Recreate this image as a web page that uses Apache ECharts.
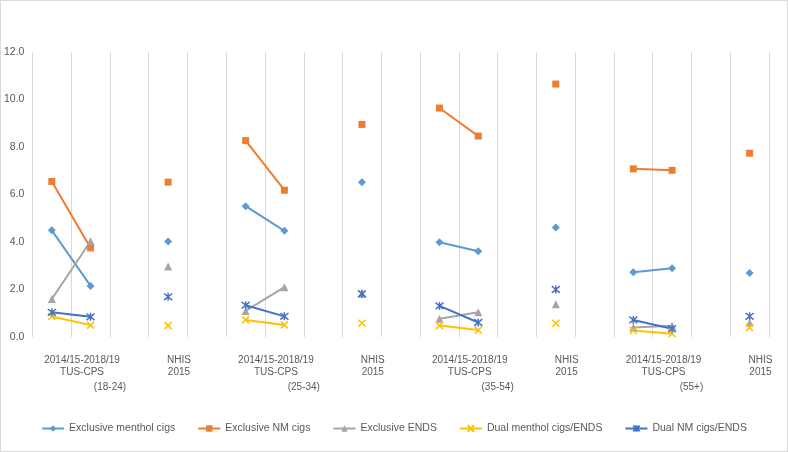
<!DOCTYPE html>
<html>
<head>
<meta charset="utf-8">
<script src="https://cdn.jsdelivr.net/npm/echarts@6/dist/echarts.min.js"></script>
<style>
html,body{margin:0;padding:0;background:#fff;}
#chart{width:788px;height:452px;box-sizing:border-box;border:1px solid #d9d9d9;}
</style>
</head>
<body>
<div id="chart"></div>
<script>
// ---- data ----
const ageGroups = ['(18-24)', '(25-34)', '(35-54)', '(55+)'];
const surveyLabels = ['2014/15-2018/19\nTUS-CPS', 'NHIS\n2015'];
// 19 slots: per age group: TUS-CPS 2014/15, TUS-CPS 2018/19, gap, NHIS 2015, gap (last group has no trailing gap)
const categories = [
  'TUS 14/15 18-24', 'TUS 18/19 18-24', '', 'NHIS 18-24', ' ',
  'TUS 14/15 25-34', 'TUS 18/19 25-34', '  ', 'NHIS 25-34', '   ',
  'TUS 14/15 35-54', 'TUS 18/19 35-54', '    ', 'NHIS 35-54', '     ',
  'TUS 14/15 55+', 'TUS 18/19 55+', '      ', 'NHIS 55+'
];
const seriesNames = ['Exclusive menthol cigs', 'Exclusive NM cigs', 'Exclusive ENDS', 'Dual menthol cigs/ENDS', 'Dual NM cigs/ENDS'];
const exclMenthol = [4.49, 2.15, null, 4.02, null, 5.51, 4.47, null, 6.52, null, 3.99, 3.61, null, 4.61, null, 2.73, 2.89, null, 2.69];
const exclNM      = [6.55, 3.75, null, 6.52, null, 8.27, 6.18, null, 8.95, null, 9.64, 8.46, null, 10.65, null, 7.08, 7.02, null, 7.74];
const exclENDS    = [1.60, 4.03, null, 2.97, null, 1.10, 2.10, null, 1.82, null, 0.77, 1.04, null, 1.38, null, 0.40, 0.47, null, 0.60];
const dualMenthol = [0.86, 0.50, null, 0.48, null, 0.72, 0.51, null, 0.58, null, 0.48, 0.29, null, 0.58, null, 0.27, 0.14, null, 0.40];
const dualNM      = [1.04, 0.85, null, 1.69, null, 1.34, 0.87, null, 1.82, null, 1.31, 0.61, null, 2.00, null, 0.72, 0.35, null, 0.87];

// ---- styling / layout ----
const colors = ['#5B9BD5', '#ED7D31', '#A5A5A5', '#FFC000', '#4472C4'];
const symbols = [
  'diamond',
  'rect',
  'triangle',
  'path://M0,0L10,10M10,0L0,10',
  'path://M0,0L10,10M10,0L0,10M5,-1L5,11'
];
const symbolSizes = [8, 7, 8, 7, 8];
const allData = [exclMenthol, exclNM, exclENDS, dualMenthol, dualNM];
const textColor = '#595959';
const fontFamily = 'Liberation Sans, Arial, sans-serif';

const surveyPos = [], surveyMap = {};
const agePos = [], ageMap = {};
ageGroups.forEach((g, i) => {
  const start = i * 5;
  const a = start + 0.78, b = start + 3.28, c = start + 1.5;
  surveyPos.push(a, b);
  surveyMap[a.toFixed(2)] = surveyLabels[0];
  surveyMap[b.toFixed(2)] = surveyLabels[1];
  agePos.push(c);
  ageMap[c.toFixed(2)] = g;
});

const chart = echarts.init(document.getElementById('chart'), null, {renderer: 'canvas'});
const isPath = s => s.indexOf('path://') === 0;
chart.setOption({
  animation: false,
  color: colors,
  grid: {left: 31, right: 18, top: 51, bottom: 114, containLabel: false},
  legend: {
    bottom: 12,
    left: 'center',
    itemGap: 22,
    itemWidth: 22,
    itemHeight: 8,
    textStyle: {color: textColor, fontSize: 10.5, fontFamily: fontFamily},
    data: seriesNames
  },
  xAxis: [
    {
      type: 'category',
      data: categories,
      boundaryGap: true,
      axisLine: {show: false},
      axisTick: {show: false, interval: 0},
      axisLabel: {show: false, interval: 0},
      splitLine: {show: true, interval: 0, lineStyle: {color: '#d9d9d9', width: 1}}
    },
    {
      type: 'value',
      position: 'bottom',
      offset: 0,
      min: -0.5, max: 18.5,
      axisLine: {show: false},
      axisTick: {show: false},
      splitLine: {show: false},
      axisLabel: {
        customValues: surveyPos,
        margin: 17,
        color: textColor,
        fontSize: 10,
        lineHeight: 12,
        fontFamily: fontFamily,
        formatter: v => surveyMap[v.toFixed(2)] || ''
      }
    },
    {
      type: 'value',
      position: 'bottom',
      offset: 0,
      min: -0.5, max: 18.5,
      axisLine: {show: false},
      axisTick: {show: false},
      splitLine: {show: false},
      axisLabel: {
        customValues: agePos,
        margin: 45,
        color: textColor,
        fontSize: 10,
        fontFamily: fontFamily,
        formatter: v => ageMap[v.toFixed(2)] || ''
      }
    }
  ],
  yAxis: {
    type: 'value',
    min: 0, max: 12, interval: 2,
    axisLine: {show: false},
    axisTick: {show: false},
    splitLine: {show: false},
    axisLabel: {
      margin: 8,
      color: textColor,
      fontSize: 10.5,
      fontFamily: fontFamily,
      formatter: v => v.toFixed(1)
    }
  },
  series: seriesNames.map((name, i) => ({
    name: name,
    type: 'line',
    xAxisIndex: 0,
    data: allData[i],
    connectNulls: false,
    showSymbol: true,
    showAllSymbol: true,
    symbol: symbols[i],
    symbolSize: symbolSizes[i],
    lineStyle: {width: 2, color: colors[i]},
    itemStyle: isPath(symbols[i])
      ? {color: colors[i], borderColor: colors[i], borderWidth: 1.5}
      : {color: colors[i], borderWidth: 0},
    emphasis: {disabled: true}
  }))
});
</script>
</body>
</html>
